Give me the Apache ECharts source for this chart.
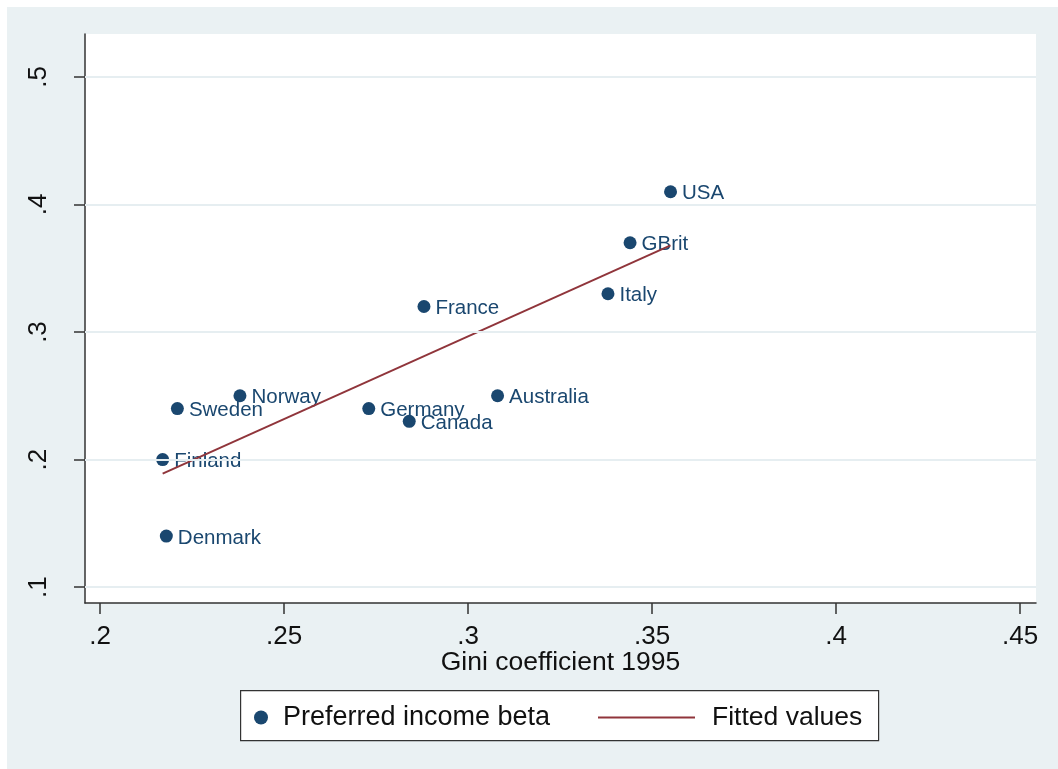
<!DOCTYPE html>
<html>
<head>
<meta charset="utf-8">
<script src="https://cdn.jsdelivr.net/npm/echarts@6/dist/echarts.min.js"></script>
<style>
  html, body { margin: 0; padding: 0; background: #ffffff; }
  #chart { position: absolute; left: 7px; top: 7px; width: 1051px; height: 762px; }
</style>
</head>
<body>
<div id="chart"></div>
<script>
// Countries, Gini coefficient (1995) and preferred income beta
const countries = ['USA', 'GBrit', 'Italy', 'France', 'Australia', 'Germany', 'Canada', 'Norway', 'Sweden', 'Finland', 'Denmark'];
const gini = [0.355, 0.344, 0.338, 0.288, 0.308, 0.273, 0.284, 0.238, 0.221, 0.217, 0.218];
const incomeBeta = [0.41, 0.37, 0.33, 0.32, 0.25, 0.24, 0.23, 0.25, 0.24, 0.20, 0.14];

// Fitted regression line endpoints
const fittedX = [0.217, 0.355];
const fittedY = [0.189, 0.368];

// Axis ticks
const xTicks = [0.2, 0.25, 0.3, 0.35, 0.4, 0.45];
const yTicks = [0.1, 0.2, 0.3, 0.4, 0.5];

const navy = '#1a476f';
const maroon = '#90353b';
const fontFamily = '"Liberation Sans", Arial, Helvetica, sans-serif';
const fmt = v => String(v).replace(/^0\./, '.');

const chart = echarts.init(document.getElementById('chart'));

chart.setOption({
  backgroundColor: '#eaf1f3',
  animation: false,
  textStyle: { fontFamily: fontFamily },
  grid: {
    left: 78, top: 27, right: 22, bottom: 166,
    show: true, backgroundColor: '#ffffff', borderWidth: 0
  },
  xAxis: {
    type: 'value',
    min: 0.1959, max: 0.4543,
    name: 'Gini coefficient 1995',
    nameLocation: 'middle',
    nameGap: 46,
    nameMoveOverlap: false,
    nameTextStyle: { fontSize: 26.5, color: '#111' },
    axisLine: { show: true, onZero: false, lineStyle: { color: '#333', width: 1.5 } },
    axisTick: { show: true, length: 11, customValues: xTicks, lineStyle: { color: '#333', width: 1.5 } },
    axisLabel: { customValues: xTicks, formatter: fmt, fontSize: 26, color: '#111', margin: 21 },
    splitLine: { show: false }
  },
  yAxis: {
    type: 'value',
    min: 0.0875, max: 0.5337,
    axisLine: { show: true, onZero: false, lineStyle: { color: '#333', width: 1.5 } },
    axisTick: { show: true, length: 11, customValues: yTicks, lineStyle: { color: '#333', width: 1.5 } },
    axisLabel: { customValues: yTicks, formatter: fmt, fontSize: 26, color: '#111', rotate: 90, margin: 33 },
    splitLine: { show: false }
  },
  legend: [
    {
      data: [{ name: 'Preferred income beta', icon: 'circle' }],
      left: 242, top: 692,
      itemWidth: 24, itemHeight: 14,
      textStyle: { fontSize: 27, color: '#111', padding: [0, 0, 0, 5] }
    },
    {
      data: [{ name: 'Fitted values', icon: 'rect' }],
      left: 586, top: 692,
      itemWidth: 97, itemHeight: 2,
      itemStyle: { color: maroon },
      textStyle: { fontSize: 26.5, color: '#111', padding: [0, 0, 0, 12] }
    }
  ],
  graphic: [{
    type: 'rect',
    left: 233, top: 683,
    shape: { width: 638, height: 50 },
    style: { fill: '#ffffff', stroke: '#333', lineWidth: 1.2 },
    z: -1
  }],
  series: [
    {
      // horizontal grid lines at the y ticks
      type: 'line',
      name: 'grid',
      data: [],
      z: 1,
      silent: true,
      markLine: {
        silent: true,
        symbol: 'none',
        label: { show: false },
        lineStyle: { color: '#e6eef1', width: 2, type: 'solid' },
        data: yTicks.map(v => ({ yAxis: v }))
      }
    },
    {
      type: 'scatter',
      name: 'Preferred income beta',
      z: 3,
      symbolSize: 13,
      itemStyle: { color: navy, opacity: 1 },
      label: {
        show: true,
        position: 'right',
        distance: 5,
        offset: [0, 2],
        fontSize: 20.5,
        color: navy,
        formatter: p => p.name
      },
      data: countries.map((c, i) => ({ name: c, value: [gini[i], incomeBeta[i]] }))
    },
    {
      type: 'line',
      name: 'Fitted values',
      z: 4,
      symbol: 'none',
      lineStyle: { color: maroon, width: 2 },
      itemStyle: { color: maroon },
      data: fittedX.map((x, i) => [x, fittedY[i]])
    }
  ]
});
</script>
</body>
</html>
